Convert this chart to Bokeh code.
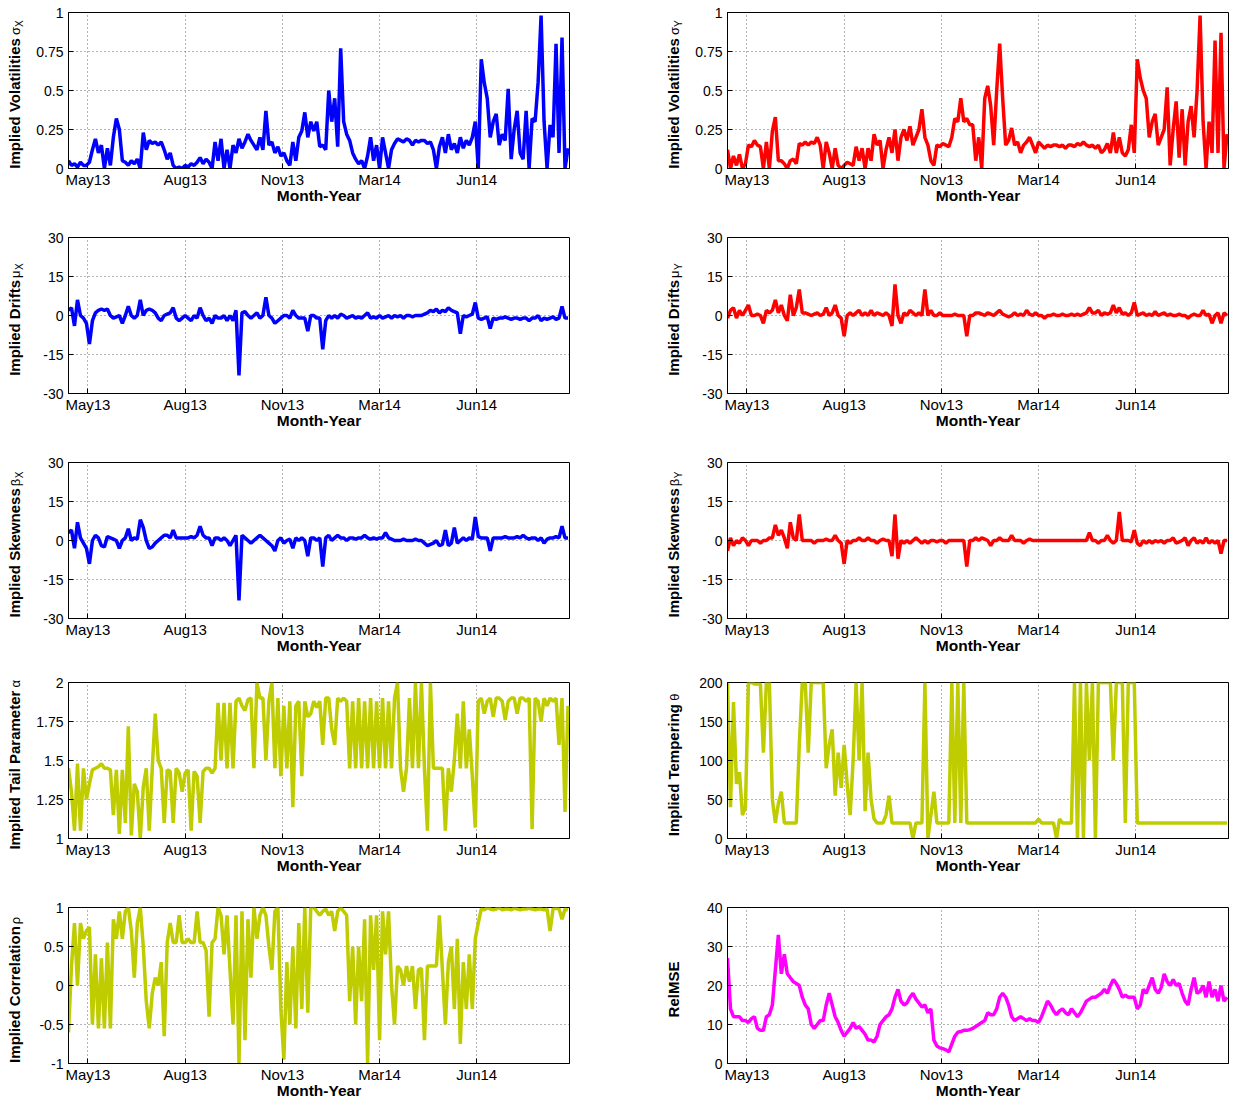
import numpy as np
from bokeh.plotting import figure
from bokeh.models import Range1d, FixedTicker, Label
from bokeh.layouts import row, column
from bokeh.embed import file_html
from bokeh.resources import INLINE

# ---------------- data ----------------
month_ticks = [13, 78, 143, 208, 273]
month_labels = ["May13", "Aug13", "Nov13", "Mar14", "Jun14"]
day_step = 2  # one value every 2 trading days, day 0 .. 334

sigma_x = [0.05, 0.02, 0.03, 0.01, 0.04, 0.02, 0.02,
           0.04, 0.12, 0.19, 0.10, 0.15, 0.00, 0.13,
           0.02, 0.20, 0.32, 0.25,
           0.05, 0.04, 0.02, 0.05, 0.03, 0.06,
           0.00, 0.23, 0.12,
           0.18, 0.16, 0.17, 0.15, 0.17, 0.12, 0.06,
           0.10, 0.02, 0.00, 0.01, 0.00,
           0.02, 0.01, 0.03, 0.02, 0.04, 0.07, 0.03, 0.06, 0.04, 0.00,
           0.17, 0.05, 0.19, 0.00, 0.12, 0.00, 0.15,
           0.10, 0.19, 0.13, 0.17, 0.22, 0.18, 0.15, 0.12,
           0.20, 0.12, 0.37, 0.15,
           0.17, 0.10, 0.14, 0.08, 0.10, 0.05, 0.02,
           0.17, 0.05, 0.20, 0.24, 0.36, 0.20, 0.30, 0.24,
           0.30, 0.14, 0.15, 0.12, 0.50,
           0.30, 0.45, 0.14, 0.77, 0.30,
           0.22, 0.18, 0.10, 0.06, 0.03, 0.05, 0.00,
           0.08, 0.20, 0.05, 0.15, 0.00, 0.20, 0.10, 0.00, 0.12, 0.16,
           0.19, 0.18, 0.17, 0.19, 0.18, 0.15, 0.18, 0.17, 0.18, 0.18, 0.16, 0.17, 0.12,
           0.00, 0.14, 0.20, 0.10, 0.22, 0.12, 0.16, 0.10, 0.20, 0.13, 0.18, 0.15, 0.20,
           0.30, 0.00, 0.70, 0.55, 0.45,
           0.20, 0.30, 0.35, 0.15, 0.22, 0.18,
           0.51, 0.06, 0.25, 0.37, 0.10, 0.06,
           0.37, 0.00, 0.32, 0.30, 0.55,
           0.98, 0.30, 0.00, 0.28, 0.20,
           0.80, 0.10, 0.84, 0.00, 0.13]

sigma_y = [0.12, 0.00, 0.08, 0.02, 0.09, 0.00, 0.03,
           0.15, 0.14, 0.18, 0.15, 0.14, 0.00, 0.17,
           0.00, 0.24, 0.33, 0.05,
           0.05, 0.03, 0.00, 0.05, 0.06, 0.03,
           0.16, 0.15, 0.17,
           0.15, 0.17, 0.16, 0.20, 0.15, 0.00, 0.17,
           0.10, 0.00, 0.13, 0.02, 0.00,
           0.02, 0.04, 0.03, 0.02, 0.14, 0.05, 0.13, 0.00, 0.13, 0.05,
           0.22, 0.15, 0.18, 0.00, 0.12, 0.20, 0.10,
           0.25, 0.05, 0.20, 0.25, 0.18, 0.27, 0.15, 0.20,
           0.25, 0.38, 0.20, 0.15,
           0.05, 0.02, 0.15, 0.14, 0.16, 0.15, 0.14,
           0.20, 0.32, 0.30, 0.45, 0.30, 0.32, 0.28, 0.28,
           0.05, 0.20, 0.00, 0.45, 0.53,
           0.40, 0.15, 0.50, 0.80, 0.45,
           0.15, 0.18, 0.26, 0.15, 0.17, 0.10, 0.15,
           0.17, 0.20, 0.15, 0.10, 0.17, 0.15, 0.13, 0.15, 0.14, 0.15,
           0.15, 0.14, 0.15, 0.13, 0.15, 0.15, 0.14, 0.16, 0.15, 0.17, 0.15, 0.14, 0.15,
           0.13, 0.15, 0.10, 0.12, 0.16, 0.10, 0.23, 0.10, 0.20, 0.10, 0.08, 0.12, 0.28,
           0.10, 0.70, 0.58, 0.50, 0.45,
           0.20, 0.30, 0.35, 0.15, 0.20, 0.25,
           0.52, 0.02, 0.25, 0.43, 0.07, 0.38,
           0.02, 0.30, 0.40, 0.20, 0.50,
           0.98, 0.30, 0.00, 0.30, 0.10,
           0.82, 0.10, 0.87, 0.00, 0.22]

mu_x = [2, 3, -4, 6, 0, -1, -3,
        -11, -2, 1, 2, 2.5, 2, 2.5,
        0, -1, -0.5, 0,
        -3, 0, 3.5, 0, -1, 0,
        6, 0, 2,
        2.5, 2, 1, -1, -2, 0, 0.5,
        1, 3, -1, -2, -1,
        0, -1, -2, 0, -1, 3, 0, -2, -1, -3,
        0, -1, -1, 0, -2, 0, -2,
        2, -23, 1, 1.5, 0, -1, 0, 1,
        -1, 0, 7, 0,
        -1, -3, -2, -1, 0, 0, -1,
        2, 0, -1, -1, -1, -6, 0, 0,
        -1, -1, -13, -2, 0,
        -1, 0, -1, 0.5, 0,
        -1, -0.5, 0, -1, -0.5, -1, 0,
        1, -1, -0.5, -1, 0, -1, -0.5, 0, -1, 0,
        -0.5, 0, -1, 0, 0, -0.5, 0, 0, 0, 0.5, 1, 2, 1.5,
        2.5, 1, 2, 1.5, 3, 2, 1.5, 1, -7, 0, -0.5, 0, 0.5,
        5, -1, -1.5, -1, -0.5,
        -5, -1, -1.5, -1, -1, -0.5,
        -1, -1.5, -1, -1, -1.5, -1,
        -1, -2, -1, -1, 0,
        -2, -1, -1.5, -1, -0.5,
        -1.5, -1, 3.5, -1, -1]

mu_y = [-1, 2, 3, -1, 2, 0, 2,
        4, 0, 0, 0.5, 0, -3, 2,
        1, 2, 6, 1,
        4, 0, -2, 8, 0, 3,
        10, 1, 1,
        0.5, 0, 0.5, 1, 0, 0.5, 3,
        0, 1, 4, 0, -1,
        -8, 0, 1, 0, 1, 2, 0, 1, 0, 2,
        0, 1, 0.5, 0, 1, 0, -4,
        12, 0, -3, 1, 0, 2, 1, 0,
        1, 0, 10, 0,
        2, 0, 0, 1, 0, 0, 0,
        0, 0.5, 0, 0, 0, -8, 0, 0,
        1, 1, 0.5, 0, 1,
        0.5, 0, 1, 2, 0.5,
        0, -0.5, 0, 1, 0, 0.5, 0,
        2, 0.5, 0, 1, 0, 0, -1, 0, 0, 0.5,
        0, 0, 0.5, 0, 0, 0.5, 0, 0.5, 0, 0.5, 1, 3, 1,
        1, 2, 0, 1, 0.5, 1, 4, 1, 3, 0.5, 1, 0, 1,
        5, 0, 0.5, 1, 0,
        0.5, 0, 1.5, 0, 0.5, 1,
        0, 0.5, 0, 0, 0.5, 0,
        0, -1, 0, 0.5, 0,
        0, 2, 0, 0.5, -3,
        0, 1, -3, 1, 0]

beta_x = [3, 4, -3, 7, 1, -1, -3,
          -9, 0, 2, 1, -2, -2.5, 1.5,
          1, 0.5, 0, -3,
          0, 1, 4.5, 0, 1, 0.5,
          8, 5, 0,
          -3, -2.5, -1, 0, 1, 2, 2,
          1, 4, 1, 1, 1,
          1, 1, 1.5, 1, 2, 5.5, 2, 1, 1, -2,
          1, 1, 0, 1, 0, -2, 0,
          2, -23, 2, 1, 0, -1, 0, 1,
          2, 1, 0, -1,
          -2, -4, 0, 1, -1, 0, 0.5,
          -3, 1, 0, 1, 0, -6, 1, 1,
          0, 1, -10, 1, 2,
          0, 1, 2, 1, 1,
          0, 1, 1, 0.5, 1, 1, 2,
          1, 0.5, 1, 0.5, 1, 1, 3, 1, 0.5, 0,
          0, 0, 0.5, 0, 0, 0, 0.5, 0, 0, -1, -2, -1.5, -1,
          0, -2, -1.5, 4, -2, -1, 5, -1, 0, 1, 0, 1, 0.5,
          9, 1.5, 1, 1, 1,
          -4, 1, 1, 1, 1, 1.5,
          1, 1, 1, 1.5, 1, 2,
          1, 0.5, 1, 1, 0,
          1, -1, 0.5, 1, 1,
          1.5, 1, 5.5, 1, 1]

beta_y = [-4, 1, -2, 0, -1, 1, 0,
          -2, 0, 0, 0, -1, 0, 0,
          1, 1, 6, 2,
          4, 1, -3, 7, 1, 0,
          10, 0, 0,
          0, 0, -1, 0, 0, 0, 0.5,
          0, 0, 2, 0, -1,
          -9, 0, -1, 0, 0, 1, 0, 0, 1, 0,
          0, -1, 0, 0.5, 0, 0, -6,
          10, -7, 0, -1, 0, -1, 0, 1,
          0, -1, 0, -1,
          0, 0, -0.5, 0, 0, -1, 0,
          0, 0, 0, 0, 0, -10, 0, 0,
          1, 0, 1, 0.5, 0,
          -2, 0, 0, 1, 0,
          0, 0, 2, 0, 0, 0, -1,
          0, 0.5, 0, 0, 0, 0, 0, 0, 0, 0,
          0, 0, 0, 0, 0, 0, 0, 0, 0, 0, 0, 3, 0,
          0, -1, 0, 0, 2, 0, -1, 0, 11, 0, 0, 0, -0.5,
          4, -1, -2, 0, -1,
          0, -1, 0, -0.5, 0, -1,
          0, 0, 1, -1, -0.5, 0,
          1, -2, 0, 1, -1,
          0, -1, 1, -1, 0,
          -1, 0, -5, 0, 0]

alpha = [1.45, 1.30, 1.05, 1.48, 1.05, 1.45, 1.25,
         1.35, 1.44, 1.45, 1.46, 1.48, 1.45, 1.45,
         1.44, 1.15, 1.44, 1.03,
         1.44, 1.10, 1.72, 1.02, 1.35, 1.30,
         1.00, 1.33, 1.45,
         1.05, 1.45, 1.80, 1.50, 1.45, 1.10, 1.44,
         1.43, 1.10, 1.45, 1.42, 1.30,
         1.42, 1.44, 1.05, 1.43, 1.40, 1.10, 1.43, 1.45, 1.45, 1.42,
         1.45, 1.87, 1.50, 1.87, 1.45, 1.87, 1.45,
         1.88, 1.90, 1.85, 1.82, 1.89, 1.90, 1.45, 2.00,
         1.90, 1.90, 1.50, 1.88,
         2.00, 1.45, 1.90, 1.40, 1.85, 1.45, 1.88,
         1.20, 1.85, 1.88, 1.40, 1.88, 1.78, 1.80, 1.88,
         1.84, 1.88, 1.60, 1.90, 1.90,
         1.70, 1.60, 1.90, 1.88, 1.90,
         1.88, 1.45, 1.88, 1.45, 1.90, 1.45, 1.88,
         1.45, 1.90, 1.45, 1.88, 1.45, 1.90, 1.45, 1.88, 1.45, 1.90,
         2.00, 1.45, 1.30, 1.45, 1.90, 1.45, 2.00, 1.45, 2.00, 1.45, 1.05, 2.00, 1.45,
         1.45, 1.45, 1.45, 1.05, 1.45, 1.30, 1.50, 1.80, 1.45, 1.88, 1.45, 1.70, 1.40,
         1.07, 1.88, 1.90, 1.80, 1.88,
         1.90, 1.78, 1.90, 1.90, 1.88, 1.76,
         1.88, 1.90, 1.90, 1.80, 1.90, 1.90,
         1.88, 1.90, 1.06, 1.90, 1.88,
         1.75, 1.90, 1.85, 1.90, 1.88,
         1.90, 1.60, 1.90, 1.17, 1.85]

theta = [200, 40, 175, 70, 85, 30, 40,
         200, 200, 198, 198, 198, 110, 200,
         200, 50, 20, 45,
         60, 20, 20, 20, 20, 20,
         120, 200, 200,
         110, 200, 200, 200, 200, 200, 90,
         120, 140, 55, 110, 65,
         120, 70, 30, 100, 200, 100, 200, 35, 110, 50,
         25, 20, 20, 20, 30, 55, 20,
         20, 20, 20, 20, 20, 20, 0, 20,
         20, 20, 200, 0,
         30, 60, 20, 20, 20, 20, 20,
         200, 20, 200, 20, 200, 20, 20, 20,
         20, 20, 20, 20, 20,
         20, 20, 20, 20, 20,
         20, 20, 20, 20, 20, 20, 20,
         20, 20, 20, 20, 25, 20, 20, 20, 20, 20,
         0, 25, 20, 20, 20, 20, 200, 0, 200, 0, 200, 100, 200,
         0, 200, 200, 200, 200, 200, 100, 200, 200, 200, 20, 200, 200,
         200, 20, 20, 20, 20,
         20, 20, 20, 20, 20, 20,
         20, 20, 20, 20, 20, 20,
         20, 20, 20, 20, 20,
         20, 20, 20, 20, 20,
         20, 20, 20, 20, 20]

rho = [-0.60, 0.25, 0.80, 0.00, 0.80, 0.60, 0.70,
       0.75, -0.50, 0.40, -0.55, 0.35, -0.55, 0.55,
       -0.55, 0.85, 0.60, 0.95,
       0.60, 0.95, 1.00, 0.70, 0.10, 0.80,
       1.00, 0.50, -0.20,
       -0.55, -0.10, 0.10, 0.00, 0.30, -0.65, 0.55,
       0.80, 0.55, 0.55, 0.90, 0.55,
       0.55, 0.60, 0.55, 0.55, 0.95, 0.55, 0.55, 0.45, -0.40, 0.55,
       0.60, 1.00, 0.90, 0.40, 0.90, 0.20, -0.50,
       0.90, -1.00, 0.95, -0.70, 0.85, 0.10, 1.00, 0.60,
       0.90, 1.00, 0.90, 0.50,
       0.20, 0.95, 1.00, -0.30, -0.95, 0.30, -0.50,
       0.50, -0.55, 0.80, -0.30, 1.00, -0.35, 1.00, 1.00,
       0.95, 0.90, 0.95, 0.98, 0.90,
       0.95, 0.70, 0.95, 1.00, 0.95,
       0.90, -0.20, 0.50, -0.50, 0.50, -0.20, 0.85,
       -1.00, 0.90, 0.20, 0.90, -0.70, 0.95, 0.40, 0.95, 0.00, -0.50,
       0.25, 0.20, 0.00, 0.25, 0.05, 0.25, -0.30, 0.20, 0.22, -0.70, 0.25, 0.25, 0.25,
       0.25, 0.90, 0.20, -0.50, 0.30, 0.50, -0.30, 0.60, -0.75, 0.30, -0.30, 0.40, -0.30,
       0.60, 0.80, 0.98, 0.97, 1.00,
       0.98, 0.97, 0.98, 1.00, 0.97, 0.98,
       0.98, 0.97, 0.99, 0.98, 0.97, 0.98,
       0.98, 0.99, 0.98, 0.97, 0.98,
       0.98, 0.97, 0.98, 0.70, 0.98,
       0.99, 0.98, 0.85, 0.98, 0.97]

rel_mse = [27, 14, 12, 12, 12, 11, 11,
           10.5, 11.5, 12, 9, 8.5, 8.5, 12,
           12.5, 15, 24, 33,
           23, 28, 23, 22, 21, 20.5,
           20, 17, 15,
           14, 10, 9, 10, 11, 11, 15,
           18, 15, 12, 10.5, 8.5,
           7, 8, 9, 10.5, 9, 9.5, 8.5, 7.5, 6, 6,
           5.5, 7, 10, 11, 12, 12.5, 14,
           17, 19, 16, 15, 15.5, 17, 18, 16.5,
           15.5, 14.5, 15, 13,
           14, 6, 4.5, 4, 3.8, 3.5, 3,
           5, 7, 8, 8.2, 8.5, 8.5, 8.7, 9,
           9.5, 10, 10.5, 11, 13,
           12.5, 12.5, 14, 17, 18,
           17, 15, 12, 11, 11.5, 12, 11.5,
           11, 11.5, 11, 11, 10.5, 12, 14, 16, 15, 13.5,
           12.5, 13.5, 14, 13, 12.5, 14, 13, 12, 13, 14.5, 16, 16.5, 17,
           17, 17.5, 18, 19, 18, 20, 21.5, 20.5, 19, 17, 17.5, 17, 17,
           17, 14, 15, 19, 18,
           20, 22, 19, 18, 19.5, 23,
           21, 20, 21.5, 20, 20.5, 18,
           16, 15, 19, 22, 18,
           18.5, 20, 17, 21, 17,
           19, 16, 20, 16, 17]

# ---------------- layout helpers ----------------
BOLD_W = {" ": 278, "I": 278, "m": 889, "p": 611, "l": 278, "i": 278, "e": 556,
          "d": 611, "V": 667, "o": 611, "a": 556, "t": 333, "s": 556, "D": 722,
          "r": 389, "f": 333, "S": 667, "k": 556, "n": 611, "w": 778, "T": 611,
          "P": 667, "g": 611, "C": 722, "c": 556, "R": 722, "M": 833, "E": 667}

FONT = "Liberation Sans"
FRAME_W, FRAME_H = 501, 156
LABEL_PX = 15
GREEK_PX = 13
SUB_PX = 10
TOP = 12


def bold_width(s, px):
    return sum(BOLD_W.get(c, 600) for c in s) / 1000.0 * px


def make_label_fig(width, height, xc, main, greek, sub):
    """Narrow figure that carries the rotated composite y-axis title."""
    f = figure(width=width, height=height, x_range=Range1d(0, width),
               y_range=Range1d(0, height), x_axis_type=None, y_axis_type=None,
               title=None, output_backend="svg", toolbar_location=None,
               min_border=0, min_border_left=0, min_border_right=0,
               min_border_top=0, min_border_bottom=0,
               background_fill_color="white", border_fill_color="white")
    f.outline_line_color = None
    f.grid.visible = False
    wb = bold_width(main, LABEL_PX)
    ws = (0.62 * GREEK_PX + 2) if greek else 0
    wx = 0.67 * SUB_PX if sub else 0
    total = wb + ws + wx
    yc = height - TOP - FRAME_H / 2 - 4
    y0 = yc - total / 2
    f.add_layout(Label(x=xc, y=y0, text=main, angle=np.pi / 2,
                       text_align="left", text_baseline="middle",
                       text_font=FONT, text_font_style="bold",
                       text_font_size=f"{LABEL_PX}px", text_color="black"))
    if greek:
        f.add_layout(Label(x=xc + 1, y=y0 + wb + 2, text=greek, angle=np.pi / 2,
                           text_align="left", text_baseline="middle", text_font=FONT,
                           text_font_size=f"{GREEK_PX}px", text_color="black"))
    if sub:
        f.add_layout(Label(x=xc + 5, y=y0 + wb + ws, text=sub, angle=np.pi / 2,
                           text_align="left", text_baseline="middle", text_font=FONT,
                           text_font_size=f"{SUB_PX}px", text_color="black"))
    return f


def make_panel(values, color, y_lo, y_hi, yticks, yticklabels, right_col, bottom_border):
    n = len(values)
    if n != 168:
        raise ValueError(f"series has {n} values")
    days = np.arange(n) * day_step
    p = figure(frame_width=FRAME_W, frame_height=FRAME_H,
               x_range=Range1d(0, 335), y_range=Range1d(y_lo, y_hi),
               output_backend="svg", toolbar_location=None,
               min_border_left=40, min_border_right=6 if right_col else 88,
               min_border_top=TOP, min_border_bottom=bottom_border,
               background_fill_color="white", border_fill_color="white")
    p.line(days, values, line_color=color, line_width=3.5)

    p.xaxis.ticker = FixedTicker(ticks=month_ticks)
    p.xaxis.major_label_overrides = {t: l for t, l in zip(month_ticks, month_labels)}
    p.yaxis.ticker = FixedTicker(ticks=yticks)
    p.yaxis.major_label_overrides = {t: l for t, l in zip(yticks, yticklabels)}
    for ax in (p.xaxis[0], p.yaxis[0]):
        ax.major_tick_in = 5
        ax.major_tick_out = 0
        ax.minor_tick_line_color = None
        ax.axis_line_color = "black"
        ax.major_tick_line_color = "black"
        ax.major_label_text_font = FONT
        ax.major_label_text_color = "black"
    p.xaxis.major_label_text_font_size = "15px"
    p.yaxis.major_label_text_font_size = "14px"
    p.xaxis.major_label_standoff = 2
    p.yaxis.major_label_standoff = 5
    p.xaxis.axis_label = "Month-Year"
    p.xaxis.axis_label_text_font = FONT
    p.xaxis.axis_label_text_font_size = "15.5px"
    p.xaxis.axis_label_text_font_style = "bold"
    p.xaxis.axis_label_text_color = "black"
    p.xaxis.axis_label_standoff = -4

    p.grid.grid_line_color = "#444444"
    p.grid.grid_line_dash = "1 3"
    p.grid.grid_line_alpha = 0.8
    p.outline_line_color = "black"
    p.outline_line_width = 1
    return p


BLUE, RED, OLIVE, MAGENTA = "#0000ff", "#ff0000", "#bfcc00", "#ff00ff"
unit_ticks = [0, 0.25, 0.5, 0.75, 1]
unit_labels = ["0", "0.25", "0.5", "0.75", "1"]
drift_ticks = [-30, -15, 0, 15, 30]
drift_labels = ["-30", "-15", "0", "15", "30"]
alpha_ticks = [1, 1.25, 1.5, 1.75, 2]
alpha_labels = ["1", "1.25", "1.5", "1.75", "2"]
theta_ticks = [0, 50, 100, 150, 200]
theta_labels = ["0", "50", "100", "150", "200"]
rho_ticks = [-1, -0.5, 0, 0.5, 1]
rho_labels = ["-1", "-0.5", "0", "0.5", "1"]
mse_ticks = [0, 10, 20, 30, 40]
mse_labels = ["0", "10", "20", "30", "40"]

specs = [
    # (left series, colour, lo, hi, ticks, labels, title, greek, sub), (right ...), bottom border
    ((sigma_x, BLUE, 0, 1, unit_ticks, unit_labels, "Implied Volatilities", "σ", "X"),
     (sigma_y, RED, 0, 1, unit_ticks, unit_labels, "Implied Volatilities", "σ", "Y"), 57),
    ((mu_x, BLUE, -30, 30, drift_ticks, drift_labels, "Implied Drifts", "μ", "X"),
     (mu_y, RED, -30, 30, drift_ticks, drift_labels, "Implied Drifts", "μ", "Y"), 57),
    ((beta_x, BLUE, -30, 30, drift_ticks, drift_labels, "Implied Skewness", "β", "X"),
     (beta_y, RED, -30, 30, drift_ticks, drift_labels, "Implied Skewness", "β", "Y"), 52),
    ((alpha, OLIVE, 1, 2, alpha_ticks, alpha_labels, "Implied Tail Parameter", "α", ""),
     (theta, OLIVE, 0, 200, theta_ticks, theta_labels, "Implied Tempering", "θ", ""), 57),
    ((rho, OLIVE, -1, 1, rho_ticks, rho_labels, "Implied Correlation", "ρ", ""),
     (rel_mse, MAGENTA, 0, 40, mse_ticks, mse_labels, "RelMSE", "", ""), 41),
]

labs_l, plots_l, labs_r, plots_r = [], [], [], []
for left, right, bottom in specs:
    h = TOP + FRAME_H + bottom
    labs_l.append(make_label_fig(28, h, 14, left[6], left[7], left[8]))
    plots_l.append(make_panel(left[0], left[1], left[2], left[3], left[4], left[5], False, bottom))
    labs_r.append(make_label_fig(30, h, 16, right[6], right[7], right[8]))
    plots_r.append(make_panel(right[0], right[1], right[2], right[3], right[4], right[5], True, bottom))

layout = row(column(*labs_l), column(*plots_l), column(*labs_r), column(*plots_r))
open("out.html", "w").write(file_html(layout, INLINE))
